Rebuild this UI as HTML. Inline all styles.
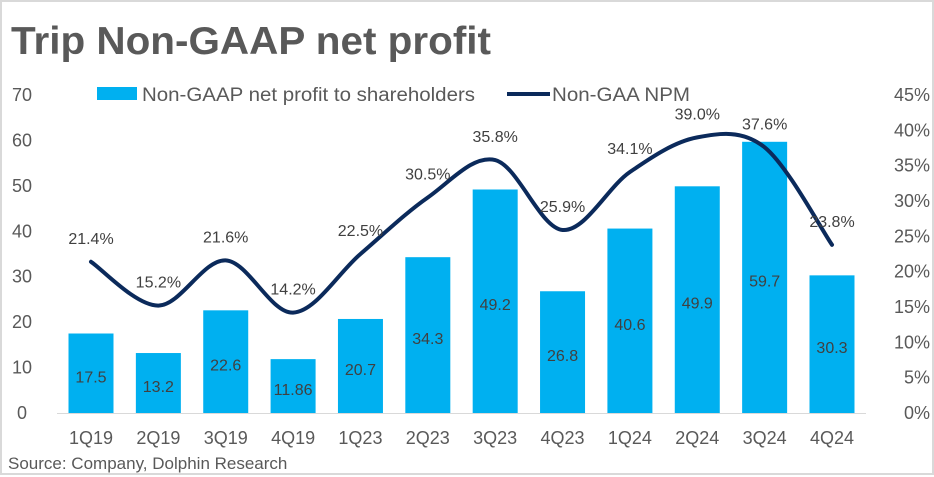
<!DOCTYPE html>
<html><head><meta charset="utf-8"><style>
body{margin:0;background:#fff;}
#wrap{position:relative;width:934px;height:475px;box-sizing:border-box;border:2px solid #d9d9d9;background:#fff;font-family:"Liberation Sans",sans-serif;}
svg{position:absolute;left:0;top:0;}
</style></head><body>
<div id="wrap">
<svg id="c" width="934" height="475">
<text x="9" y="52" font-size="39" font-weight="bold" fill="#595959" textLength="480" lengthAdjust="spacingAndGlyphs">Trip Non-GAAP net profit</text>
<text x="6" y="467" font-size="17" fill="#595959">Source: Company, Dolphin Research</text>
<g>
<rect x="95" y="85" width="40" height="13" fill="#00b0f0"/>
<text x="140" y="99" font-size="19" fill="#595959" textLength="333" lengthAdjust="spacingAndGlyphs">Non-GAAP net profit to shareholders</text>
<line x1="505" y1="92" x2="548" y2="92" stroke="#0b2a5b" stroke-width="4"/>
<text x="550" y="99" font-size="19" fill="#595959" textLength="138" lengthAdjust="spacingAndGlyphs">Non-GAA NPM</text>
</g>
</svg>
</div>
<script>
const categories=["1Q19","2Q19","3Q19","4Q19","1Q23","2Q23","3Q23","4Q23","1Q24","2Q24","3Q24","4Q24"];
const profit=[17.5,13.2,22.6,11.86,20.7,34.3,49.2,26.8,40.6,49.9,59.7,30.3];
const profitLabels=["17.5","13.2","22.6","11.86","20.7","34.3","49.2","26.8","40.6","49.9","59.7","30.3"];
const npm=[21.4,15.2,21.6,14.2,22.5,30.5,35.8,25.9,34.1,39.0,37.6,23.8];
const leftTicks=[0,10,20,30,40,50,60,70];
const rightTicks=[0,5,10,15,20,25,30,35,40,45];
const NS="http://www.w3.org/2000/svg";
const svg=document.getElementById('c');
const y0=411,yTop=93;
const yL=v=>y0-v/70*(y0-yTop);
const yR=v=>y0-v/45*(y0-yTop);
const xC=i=>89+i*(830-89)/11;
function mk(t,a,txt){const e=document.createElementNS(NS,t);for(const k in a)e.setAttribute(k,a[k]);if(txt!==undefined)e.textContent=txt;svg.appendChild(e);return e;}
leftTicks.forEach(v=>{const e=mk('text',{x:20,y:yL(v)+6,'font-size':18,fill:'#595959','text-anchor':'middle'},String(v));

});
rightTicks.forEach(v=>{const e=mk('text',{x:928,y:yR(v)+6,'font-size':18,fill:'#595959','text-anchor':'end'},v+'%');

});
const ax=mk('line',{x1:55,x2:864,y1:y0+0.5,y2:y0+0.5,stroke:'#d9d9d9','stroke-width':1});


categories.forEach((c,i)=>{
const b=mk('rect',{x:xC(i)-22.5,y:yL(profit[i]),width:45,height:y0-yL(profit[i]),fill:'#00b0f0'});


const l=mk('text',{x:xC(i),y:(yL(profit[i])+y0)/2+9,'font-size':16,fill:'#404040','text-anchor':'middle'},profitLabels[i]);


const t=mk('text',{x:xC(i),y:442,'font-size':18,fill:'#595959','text-anchor':'middle'},c);


});
const pts=npm.map((v,i)=>[xC(i),yR(v)]);
let d='M'+pts[0][0]+','+pts[0][1];
for(let i=0;i<pts.length-1;i++){const p0=pts[Math.max(0,i-1)],p1=pts[i],p2=pts[i+1],p3=pts[Math.min(pts.length-1,i+2)];
const c1=[p1[0]+(p2[0]-p0[0])/6,p1[1]+(p2[1]-p0[1])/6],c2=[p2[0]-(p3[0]-p1[0])/6,p2[1]-(p3[1]-p1[1])/6];
d+=` C${c1[0]},${c1[1]} ${c2[0]},${c2[1]} ${p2[0]},${p2[1]}`;}
const ln=mk('path',{d:d,fill:'none',stroke:'#0b2a5b','stroke-width':4,'stroke-linecap':'round'});


npm.forEach((v,i)=>{const t=mk('text',{x:xC(i),y:yR(v)-18,'font-size':16,fill:'#404040','text-anchor':'middle'},v.toFixed(1)+'%');

});
</script>
</body></html>
